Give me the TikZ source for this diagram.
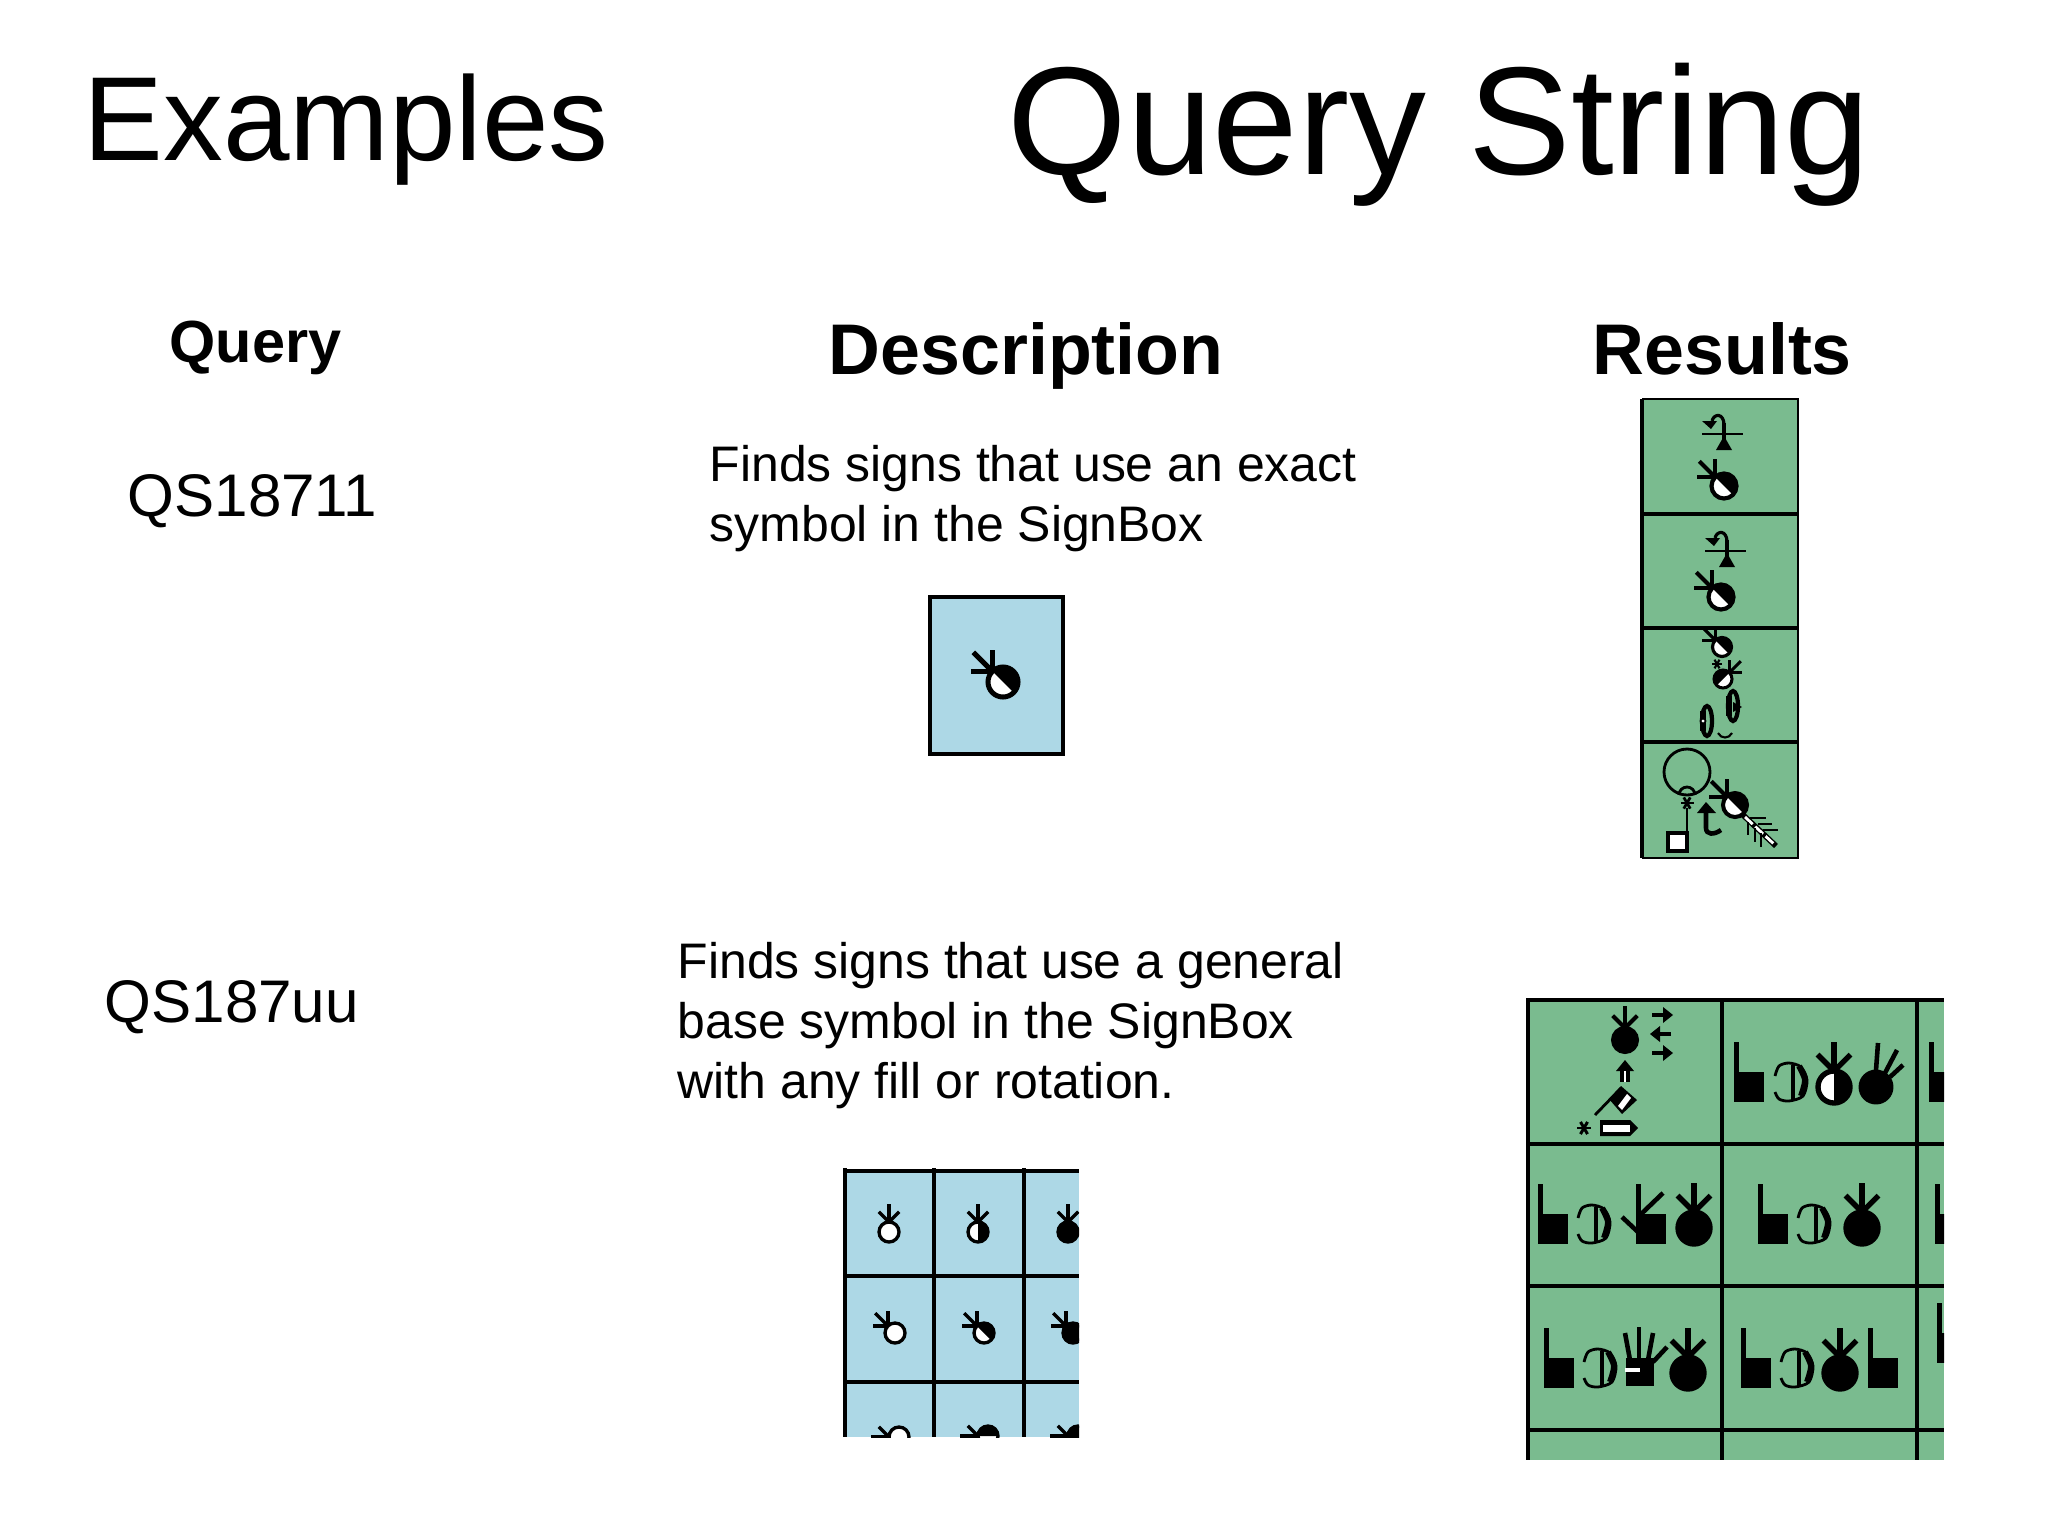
\documentclass[tikz,border=0pt]{standalone}
\usepackage{fontspec}
\setmainfont{Liberation Sans}
\usetikzlibrary{calc}
\definecolor{boxblue}{HTML}{ADD8E6}
\definecolor{boxgreen}{HTML}{7ABB8F}
\newcommand{\pxunit}{0.01cm}
\newcommand{\handsign}[5]{
	\begin{scope}[line width=0.095*#3pt]
	\draw[fill=#5] (#1,#2) circle (#3);
	\coordinate (hub) at ($(#1,#2)+(-#4:#3)$);
	\draw (hub) -- ++(-#4:1.8*#3);
	\draw (hub) -- ++(-#4-45:1.45*#3);
	\draw (hub) -- ++(-#4+45:1.45*#3);
	\end{scope}
}
\newcommand{\halfsign}[5]{
	\handsign{#1}{#2}{#3}{#4}{white}
	\fill (#1,#2) ++(-#5:#3) arc[start angle=-#5,end angle=-#5+180,radius=#3] -- cycle;
}
\newcommand{\blocksign}[2]{
	\fill (#1,#2) rectangle ++(30,-30);
	\fill (#1,#2-30) rectangle ++(5,-30);
}
\newcommand{\curlsign}[2]{
	\begin{scope}[shift={(#1,#2)}]
	\draw[line width=0.8pt] plot[smooth] coordinates {(0,-26) (4,-36) (14,-39) (26,-35) (32,-22) (28,-6) (14,-1) (4,-3) (0,-10)};
	\draw[line width=1.7pt] plot[smooth] coordinates {(24,-36) (30,-22) (26,-6)};
	\draw[line width=0.9pt] (18,-37) -- (18,-3);
	\end{scope}
}
\newcommand{\starmark}[3]{
	\foreach \ang in {0,60,120}
		\draw[line width=0.12*#3pt] ($(#1,#2)+(\ang:#3)$) -- ($(#1,#2)-(\ang:#3)$);
}
\newcommand{\hooksign}[2]{
	\begin{scope}[shift={(#1,#2)}]
	\draw[line width=0.7pt] (-22,0) -- (19,0);
	\draw[line width=1.1pt] (0,-11) -- (0,10);
	\fill (-8,16) -- (8,16) -- (0,2) -- cycle;
	\draw[line width=0.9pt] (0,-9) .. controls (0,-21) and (-10,-21) .. (-12,-13);
	\fill (-22,-13) -- (-7,-13) -- (-13,-5) -- cycle;
	\end{scope}
}
\newcommand{\flatarrow}[3]{
	\begin{scope}[shift={(#1,#2)},xscale=#3]
	\draw[line width=1pt] (-10,0) -- (4,0);
	\fill (1,-8) -- (11,0) -- (1,8) -- cycle;
	\end{scope}
}

\begin{document}
\begin{tikzpicture}[x=\pxunit,y=-\pxunit,
	labeltext/.style={anchor=base west,inner sep=0pt},
	bodytext/.style={anchor=north west,inner sep=0pt,align=left,font=\fontsize{14.2}{17.07}\selectfont},
	headtext/.style={labeltext,font=\fontsize{20.4}{24}\selectfont\bfseries},
	querytext/.style={labeltext,font=\fontsize{17.1}{20}\selectfont},
	gridline/.style={line width=1pt},
]
	\useasboundingbox (0,0) rectangle (2048,1536);

	\node[labeltext,font=\fontsize{34}{40}\selectfont] (examples) at (83,160) {Examples};
	\node[labeltext,font=\fontsize{43.7}{50}\selectfont] (title) at (1007,174) {Query String};
	\node[labeltext,font=\fontsize{16.9}{20}\selectfont\bfseries] (queryhead) at (169,362) {Query};
	\node[headtext] (deschead) at (828,374) {Description};
	\node[headtext] (resulthead) at (1592,374) {Results};
	\node[querytext] (queryone) at (127,516) {QS18711};
	\node[querytext] (querytwo) at (104,1022) {QS187uu};
	\node[bodytext] (descone) at (709,445) {Finds signs that use an exact\\symbol in the SignBox};
	\node[bodytext] (desctwo) at (677,942) {Finds signs that use a general\\base symbol in the SignBox\\with any fill or rotation.};

	\filldraw[fill=boxblue,gridline] (930,597) rectangle (1063,754);
	\halfsign{1003}{682}{15}{135}{135}

	\fill[boxgreen] (1642,399) rectangle (1798,858);
	\draw[line width=0.5pt] (1642,399) -- (1798,399) -- (1798,858) -- (1642,858);
	\draw[line width=1.1pt] (1642,399) -- (1642,858);
	\draw[gridline] (1642,514) -- (1798,514);
	\draw[gridline] (1642,628) -- (1798,628);
	\draw[gridline] (1642,742) -- (1798,742);

	\hooksign{1724}{434}
	\halfsign{1724}{486}{12.5}{135}{135}
	\hooksign{1727}{551}
	\halfsign{1721}{597}{12.5}{135}{135}

	\halfsign{1722}{647}{9.5}{135}{135}
	\starmark{1717}{664}{5}
	\halfsign{1723}{679}{9}{45}{225}
	\draw[line width=1.2pt] (1733,706) ellipse (5 and 15);
	\draw[line width=1.5pt] (1729,696) -- (1729,716);
	\draw[line width=1.2pt] (1707,721) ellipse (5 and 15);
	\draw[line width=1.5pt] (1703,711) -- (1703,731);
	\fill (1733,712) -- (1742,707) -- (1733,702) -- cycle;
	\draw[line width=0.5pt,fill=white] (1703,721) circle (2.5);
	\draw[line width=0.6pt] (1718,733) .. controls (1721,739) and (1729,739) .. (1732,733);

	\draw[line width=0.8pt] (1687,772) circle (23);
	\draw[line width=0.8pt] (1679,795) arc[start angle=180,end angle=360,radius=8];
	\starmark{1687}{803}{6.5}
	\draw[line width=0.6pt] (1687,808) -- (1687,833);
	\draw[line width=1.1pt,fill=white] (1668,833) rectangle (1687,851);
	\fill (1697,813) -- (1716,813) -- (1706,802) -- cycle;
	\draw[line width=1.3pt] (1706,812) -- (1706,828) .. controls (1706,835) and (1714,835) .. (1721,830);
	\draw[line width=1.6pt] (1743,815) -- (1776,846);
	\draw[line width=0.8pt,white,dash pattern=on 3pt off 1pt] (1745,817) -- (1775,845);
	\draw[line width=0.6pt] (1750,818) -- (1766,818);
	\draw[line width=0.6pt] (1758,824) -- (1772,824);
	\draw[line width=0.6pt] (1763,830) -- (1778,830);
	\draw[line width=0.6pt] (1748,822) -- (1748,835);
	\draw[line width=0.6pt] (1755,828) -- (1755,842);
	\draw[line width=0.6pt] (1761,833) -- (1761,847);
	\halfsign{1735}{805}{12}{135}{135}

	\begin{scope}
	\clip (840,1168) rectangle (1079,1437);
	\fill[boxblue] (845,1171) rectangle (1079,1437);
	\foreach \gx in {845,934,1024}
		\draw[gridline] (\gx,1168) -- (\gx,1437);
	\foreach \gy in {1171,1276,1382}
		\draw[gridline] (845,\gy) -- (1079,\gy);
	\handsign{889}{1232}{10}{90}{white}
	\halfsign{978}{1232}{10}{90}{90}
	\handsign{1068}{1232}{10}{90}{black}
	\handsign{895}{1333}{10}{135}{white}
	\halfsign{984}{1333}{10}{135}{135}
	\handsign{1073}{1333}{10}{135}{black}
	\handsign{899}{1437}{10}{180}{white}
	\halfsign{988}{1436}{10}{180}{180}
	\handsign{1078}{1436}{10}{180}{black}
	\end{scope}

	\begin{scope}
	\clip (1526,998) rectangle (1944,1460);
	\fill[boxgreen] (1528,1000) rectangle (1944,1460);
	\foreach \gx in {1528,1722,1917}
		\draw[gridline] (\gx,998) -- (\gx,1460);
	\foreach \gy in {1000,1144,1286,1430}
		\draw[gridline] (1528,\gy) -- (1944,\gy);

	\handsign{1625}{1040}{12}{90}{black}
	\flatarrow{1662}{1015}{1}
	\flatarrow{1661}{1034}{-1}
	\flatarrow{1662}{1053}{1}
	\fill (1616,1071) -- (1634,1071) -- (1625,1060) -- cycle;
	\fill (1620,1070) rectangle (1630,1082);
	\fill[white] (1624,1071) rectangle (1626,1082);
	\draw[line width=0.8pt] (1595,1115) -- (1621,1088);
	\fill (1621,1086) -- (1637,1100) -- (1622,1114) -- (1609,1099) -- cycle;
	\fill[white] (1627,1094) -- (1631,1098) -- (1622,1110) -- (1618,1106) -- cycle;
	\starmark{1584}{1128}{7}
	\fill (1600,1120) -- (1630,1120) -- (1638,1128) -- (1630,1136) -- (1600,1136) -- cycle;
	\fill[white] (1603,1125) rectangle (1630,1132);

	\blocksign{1734}{1102}
	\curlsign{1775}{1102}
	\halfsign{1834}{1087}{16}{90}{90}
	\draw[line width=1.4pt,fill=black] (1876,1087) circle (15);
	\draw[line width=1.3pt] (1876,1070) -- (1878,1043);
	\draw[line width=1.3pt] (1885,1073) -- (1897,1050);
	\draw[line width=1.3pt] (1890,1077) -- (1903,1065);
	\blocksign{1929}{1102}

	\blocksign{1538}{1244}
	\curlsign{1578}{1244}
	\blocksign{1636}{1244}
	\draw[line width=1.3pt] (1638,1217) -- (1663,1193);
	\draw[line width=1.3pt] (1638,1232) -- (1622,1217);
	\handsign{1694}{1228}{16}{90}{black}
	\blocksign{1758}{1244}
	\curlsign{1798}{1244}
	\handsign{1862}{1228}{16}{90}{black}
	\blocksign{1935}{1244}

	\blocksign{1544}{1388}
	\curlsign{1584}{1388}
	\fill (1626,1358) rectangle (1654,1386);
	\draw[line width=1.3pt] (1639,1327) -- (1639,1360);
	\draw[line width=1.3pt] (1625,1333) -- (1630,1360);
	\draw[line width=1.3pt] (1653,1333) -- (1648,1360);
	\draw[line width=1.3pt] (1667,1347) -- (1653,1362);
	\draw[line width=1.2pt,white] (1625,1370) -- (1640,1370);
	\handsign{1688}{1373}{16}{90}{black}
	\blocksign{1741}{1388}
	\curlsign{1781}{1388}
	\handsign{1840}{1373}{16}{90}{black}
	\blocksign{1868}{1388}
	\blocksign{1937}{1363}
	\end{scope}
\end{tikzpicture}
\end{document}
